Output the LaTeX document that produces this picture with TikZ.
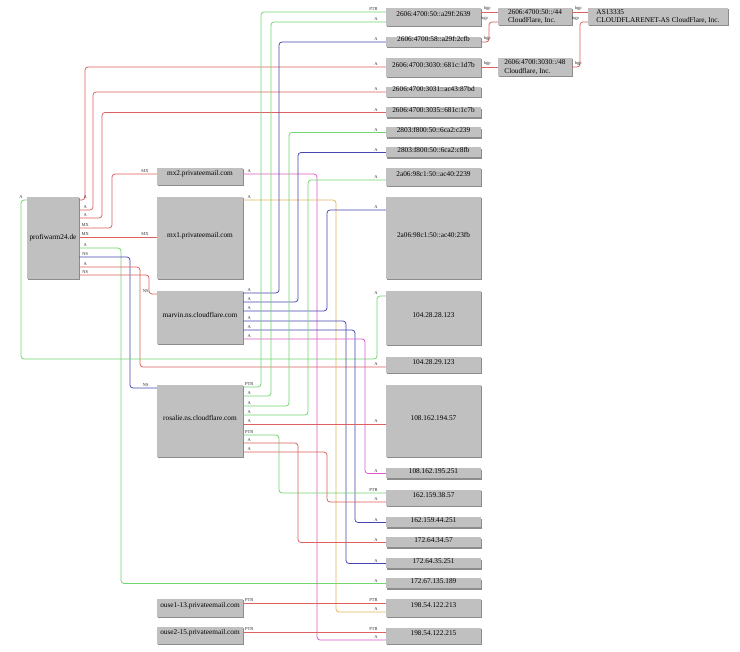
\documentclass[tikz,border=0pt]{standalone}
\usepackage{fontspec}
\setmainfont{Liberation Serif}
\usetikzlibrary{shadows}
\definecolor{boxgray}{RGB}{192,192,192}
\definecolor{cred}{RGB}{222,96,96}
\definecolor{cgreen}{RGB}{112,214,112}
\definecolor{cblue}{RGB}{70,70,176}
\definecolor{cpink}{RGB}{222,90,196}
\definecolor{corange}{RGB}{228,182,96}
\tikzstyle{hostbox}=[rectangle,fill=boxgray,inner sep=0pt,minimum width=86pt,align=center,font=\fontsize{7.3}{8.5}\selectfont,drop shadow={shadow xshift=1.2pt,shadow yshift=-1.2pt,fill=black!45,opacity=1}]
\tikzstyle{ipbox}=[hostbox,minimum width=95pt]
\tikzstyle{netbox}=[hostbox,align=left,minimum width=74pt]
\tikzstyle{dnsedge}=[draw,line width=0.75pt,rounded corners=3pt]
\tikzstyle{taillab}=[anchor=south,xshift=6pt,inner sep=0.8pt,text=black!80,font=\fontsize{4.5}{5}\selectfont]
\tikzstyle{headlab}=[anchor=south east,xshift=-7pt,inner sep=0.8pt,text=black!80,font=\fontsize{4.5}{5}\selectfont]
\tikzstyle{bgplab}=[anchor=south east,inner sep=0.8pt,text=black!80,font=\fontsize{4.5}{5}\selectfont]

\begin{document}
\begin{tikzpicture}[x=1pt,y=-1pt]
\useasboundingbox (0,0) rectangle (740,652);
\fill[white] (0,0) rectangle (740,652);

% Hosts
\node[hostbox,minimum width=52,minimum height=82] (profiwarm) at (53,238) {profiwarm24.de};
\foreach \pos/\name/\ht/\txt in {{(200,176.5)/mxtwo/17/mx2.privateemail.com}, {(200,238)/mxone/82/mx1.privateemail.com}, {(200,317.5)/marvin/53/marvin.ns.cloudflare.com}, {(200,421)/rosalie/72/rosalie.ns.cloudflare.com}, {(200,608)/ouseone/18/ouse1-13.privateemail.com}, {(200,635.5)/ousetwo/17/ouse2-15.privateemail.com}}
    \node[hostbox,minimum height=\ht] (\name) at \pos {\txt};

% Addresses
\foreach \ypos/\name/\ht/\txt in {17/ipa/18/2606:4700:50::a29f:2639, 42/ipb/10/2606:4700:58::a29f:2cfb, 67.5/ipc/19/2606:4700:3030::681c:1d7b, 92/ipd/10/2606:4700:3031::ac43:87bd, 112.5/ipe/10/2606:4700:3035::681c:1c7b, 132.5/ipf/10/2803:f800:50::6ca2:c239, 152.5/ipg/10/2803:f800:50::6ca2:c8fb, 177/iph/18/2a06:98c1:50::ac40:2239, 238/ipi/82/2a06:98c1:50::ac40:23fb, 318/ipj/54/104.28.28.123, 365/ipk/16/104.28.29.123, 421/ipl/72/108.162.194.57, 473.5/ipm/10/108.162.195.251, 498/ipn/16/162.159.38.57, 522.5/ipo/10/162.159.44.251, 542.5/ipp/10/172.64.34.57, 563.5/ipq/10/172.64.35.251, 583.5/ipr/10/172.67.135.189, 608/ips/18/198.54.122.213, 636/ipt/16/198.54.122.215}
    \node[ipbox,minimum height=\ht] (\name) at (433.5,\ypos) {\txt};

% Networks
\node[netbox,minimum height=17] (netfour) at (535,16.5) {2606:4700:50::/44\\CloudFlare, Inc.};
\node[netbox,minimum height=18] (neteight) at (535,67) {2606:4700:3030::/48\\Cloudflare, Inc.};
\node[netbox,minimum width=140,minimum height=17] (asnode) at (658,16.5) {AS13335\\CLOUDFLARENET-AS CloudFlare, Inc.};

% profiwarm24.de records
\foreach \py/\vx/\ty/\dest/\col/\lab in {200/85/67/ipc/cred/A, 210/93/92/ipd/cred/A, 218/102/112.5/ipe/cred/A, 228/112/174/mxtwo/cred/MX, 248/121/583.5/ipr/cgreen/A, 257/130/388/rosalie/cblue/NS, 267/140/367/ipk/cred/A, 275/149/294/marvin/cred/NS}
    \path[dnsedge,\col] (profiwarm.east |- 0,\py) node[taillab]{\lab} -| (\vx,\ty) -- (\dest.west |- 0,\ty) node[headlab]{\lab};
\path[dnsedge,cred] (profiwarm.east |- 0,237) node[taillab]{MX} -- (mxone.west |- 0,237) node[headlab]{MX};
\path[dnsedge,cgreen] (profiwarm.west |- 0,200) node[headlab,xshift=4pt]{A} -| (21,359) -| (377,296) -- (ipj.west |- 0,296) node[headlab]{A};

% mail servers
\path[dnsedge,cpink] (mxtwo.east |- 0,174) node[taillab]{A} -| (317,640) -- (ipt.west |- 0,640) node[headlab]{A};
\path[dnsedge,corange] (mxone.east |- 0,200) node[taillab]{A} -| (336,612) -- (ips.west |- 0,612) node[headlab]{A};
\path[dnsedge,cred] (ouseone.east |- 0,603) node[taillab]{PTR} -- (ips.west |- 0,603) node[headlab]{PTR};
\path[dnsedge,cred] (ousetwo.east |- 0,632) node[taillab]{PTR} -- (ipt.west |- 0,632) node[headlab]{PTR};

% name servers
\foreach \py/\vx/\ty/\dest/\col in {293/279/42/ipb/cblue, 302/298/152.5/ipg/cblue, 311/327/210/ipi/cblue, 321/346/563.5/ipq/cblue, 330/355/522.5/ipo/cblue, 339/365/473.5/ipm/cpink}
    \path[dnsedge,\col] (marvin.east |- 0,\py) node[taillab]{A} -| (\vx,\ty) -- (\dest.west |- 0,\ty) node[headlab]{A};
\foreach \py/\vx/\ty/\dest/\col/\lab in {387/261/12/ipa/cgreen/PTR, 396/271/22/ipa/cgreen/A, 406/289/132.5/ipf/cgreen/A, 415/308/180/iph/cgreen/A, 435/279/493/ipn/cgreen/PTR, 443/298/542.5/ipp/cred/A, 452/327/502/ipn/cred/A}
    \path[dnsedge,\col] (rosalie.east |- 0,\py) node[taillab]{\lab} -| (\vx,\ty) -- (\dest.west |- 0,\ty) node[headlab]{\lab};
\path[dnsedge,cred] (rosalie.east |- 0,424) node[taillab]{A} -- (ipl.west |- 0,424) node[headlab]{A};

% bgp
\path[dnsedge,cred] (ipa.east |- 0,12) node[taillab]{bgp} -- (netfour.west |- 0,12);
\path[dnsedge,cred] (ipb.east |- 0,42) node[taillab]{bgp} -| (489,22) node[bgplab]{bgp} -- (netfour.west |- 0,22);
\path[dnsedge,cred] (ipc.east |- 0,67) node[taillab]{bgp} -- (neteight.west |- 0,67);
\path[dnsedge,cred] (netfour.east |- 0,12) node[taillab]{bgp} -- (asnode.west |- 0,12);
\path[dnsedge,cred] (neteight.east |- 0,67) node[taillab]{bgp} -| (580,22) node[bgplab]{bgp} -- (asnode.west |- 0,22);

\end{tikzpicture}
\end{document}
